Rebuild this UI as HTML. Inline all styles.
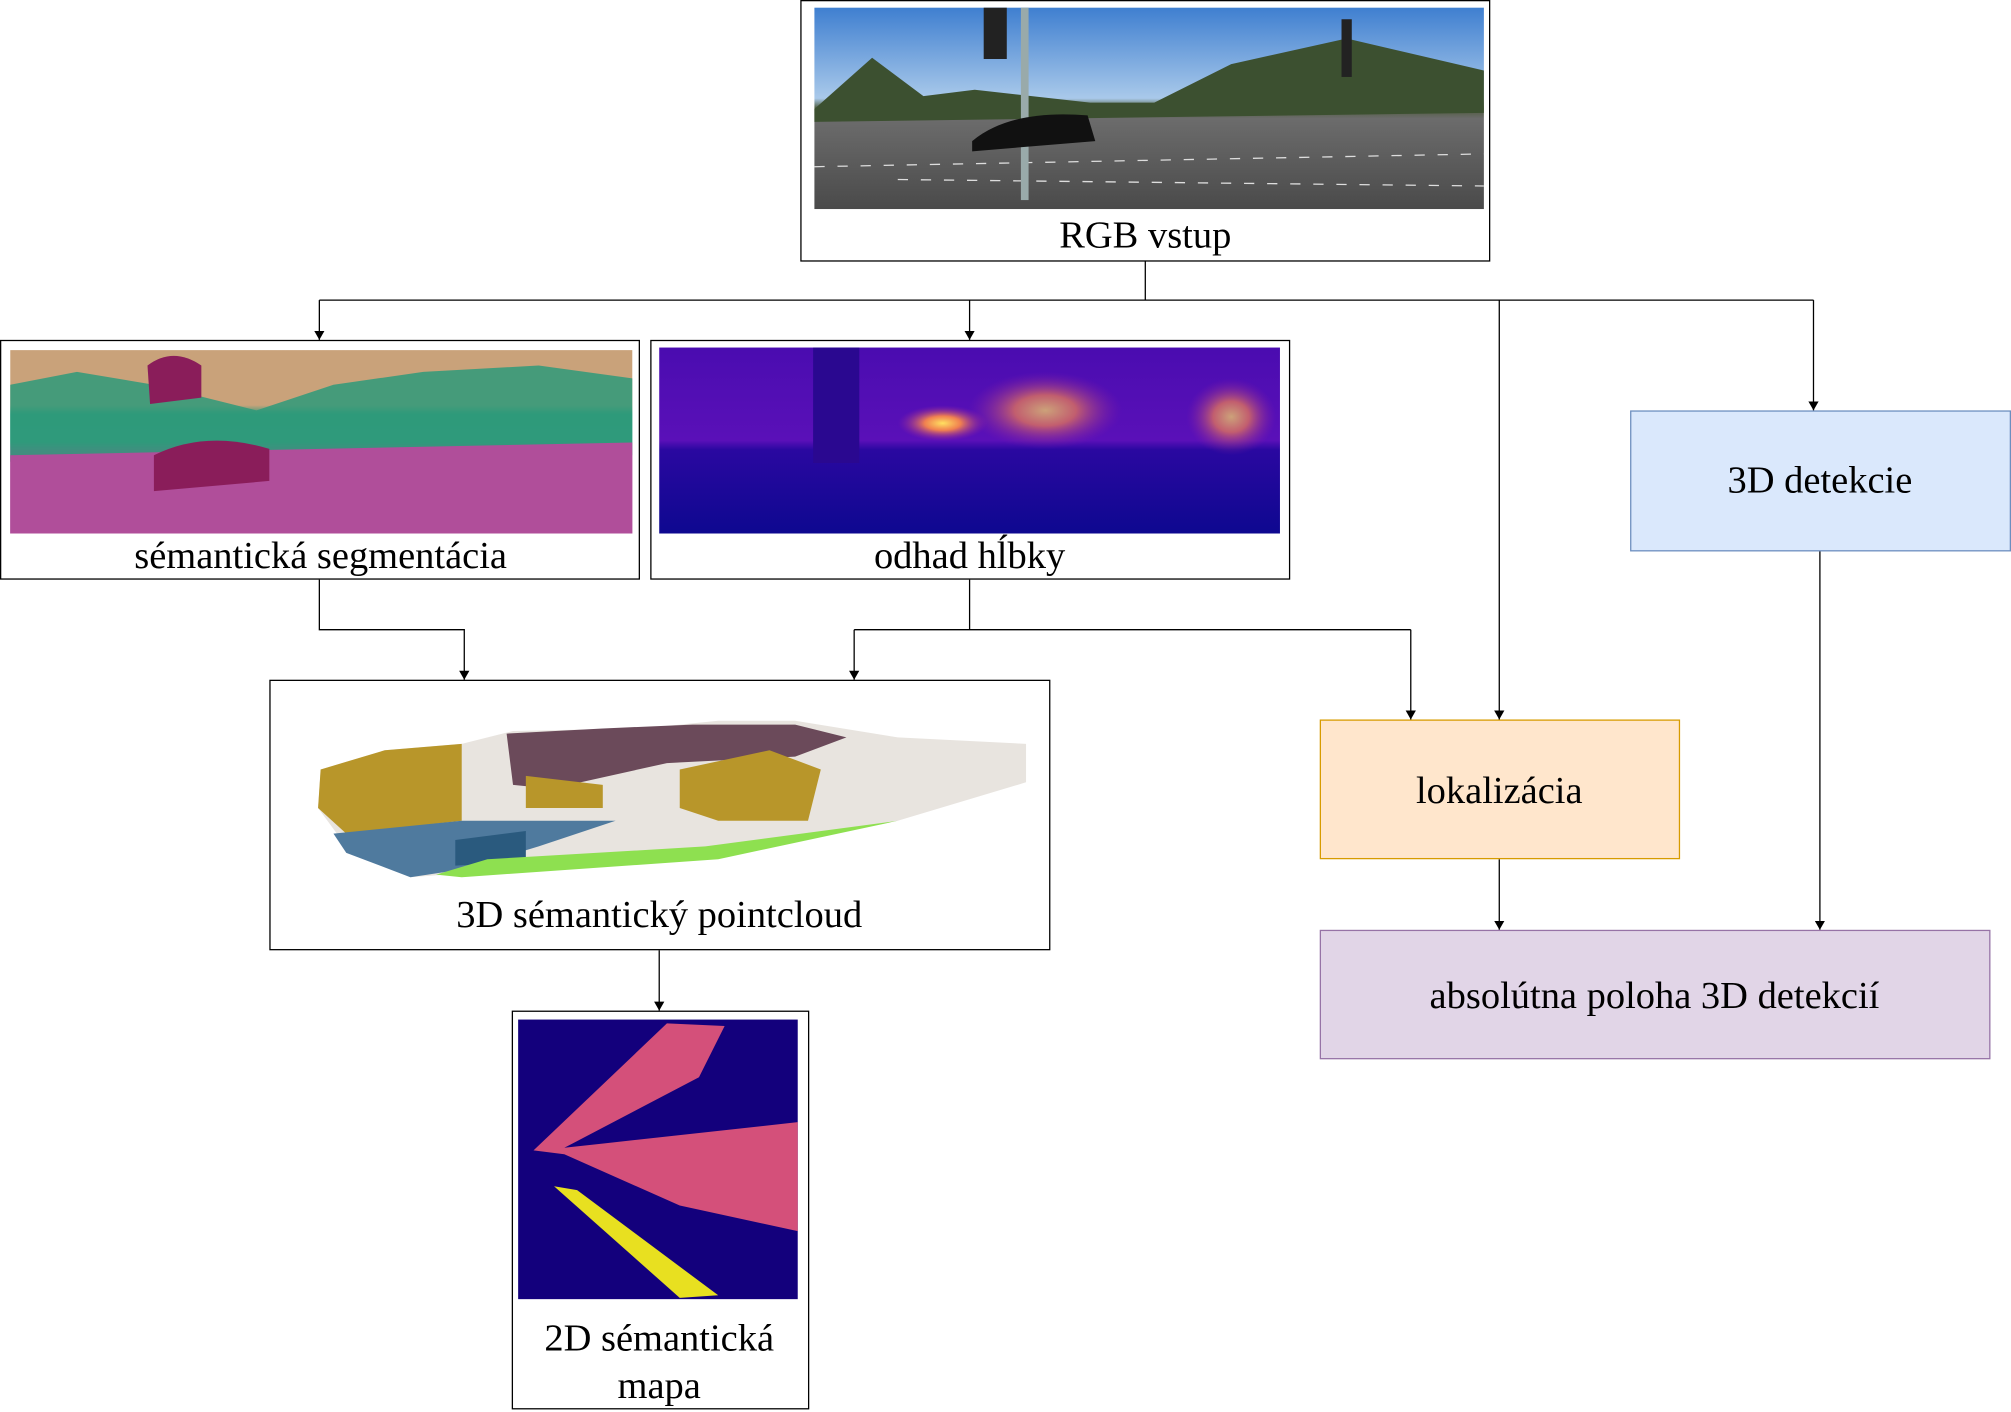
<!DOCTYPE html>
<html><head><meta charset="utf-8"><style>
html,body{margin:0;padding:0;background:#fff;width:2011px;height:1412px;overflow:hidden}
svg{display:block}
text{font-family:"Liberation Serif",serif;font-size:30px;fill:#000;text-anchor:middle}
</style></head><body>
<svg width="2011" height="1412" viewBox="0 0 1568 1101" preserveAspectRatio="none">
<defs>
<marker id="ar" markerWidth="8" markerHeight="8" refX="7" refY="4" orient="auto" markerUnits="userSpaceOnUse"><path d="M0,0 L7,4 L0,8 Z" fill="#000"/></marker>
<linearGradient id="sky" x1="0" y1="0" x2="0" y2="1"><stop offset="0" stop-color="#3f7fd0"/><stop offset="0.45" stop-color="#a9c9ea"/><stop offset="0.5" stop-color="#4d5a3a"/><stop offset="0.55" stop-color="#6c6c6c"/><stop offset="1" stop-color="#4a4a4a"/></linearGradient>
<linearGradient id="seg" x1="0" y1="0" x2="0" y2="1"><stop offset="0" stop-color="#c9a27a"/><stop offset="0.3" stop-color="#c9a27a"/><stop offset="0.35" stop-color="#2e9a7a"/><stop offset="0.5" stop-color="#3a9a80"/><stop offset="0.55" stop-color="#b04e9a"/><stop offset="1" stop-color="#b04e9a"/></linearGradient>
<linearGradient id="dep" x1="0" y1="0" x2="0" y2="1"><stop offset="0" stop-color="#4a0cb0"/><stop offset="0.5" stop-color="#5a10b8"/><stop offset="0.55" stop-color="#2a08a0"/><stop offset="1" stop-color="#0e0890"/></linearGradient>
<radialGradient id="hot" cx="0.5" cy="0.5" r="0.5"><stop offset="0" stop-color="#ffe060"/><stop offset="0.4" stop-color="#f08050"/><stop offset="1" stop-color="#9020a0" stop-opacity="0"/></radialGradient>
</defs>
<g fill="none" stroke="#000" stroke-width="1">
<path d="M893,203 V234 M249,234 H1414"/>
<path d="M249,234 V265" marker-end="url(#ar)"/>
<path d="M756,234 V265" marker-end="url(#ar)"/>
<path d="M1169,234 V561" marker-end="url(#ar)"/>
<path d="M1414,234 V320" marker-end="url(#ar)"/>
<path d="M249,452 V491 H362 V530" marker-end="url(#ar)"/>
<path d="M756,452 V491 M666,491 H1100 M666,491 V530" marker-end="url(#ar)"/>
<path d="M1100,491 V561" marker-end="url(#ar)"/>
<path d="M1169,670 V725" marker-end="url(#ar)"/>
<path d="M1419,429 V725" marker-end="url(#ar)"/>
<path d="M514,741 V788" marker-end="url(#ar)"/>
</g>
<g>
<rect x="624.5" y="0.5" width="537" height="203" fill="#fff" stroke="#000"/>
<rect x="635" y="6" width="522" height="157" fill="url(#sky)"/>
<path d="M635,85 L680,45 L720,75 L760,70 L850,80 L900,80 L960,50 L1050,30 L1157,55 L1157,88 L635,95Z" fill="#3c5030"/>
<path d="M635,130 L1157,120 M700,140 L1157,145" stroke="#ddd" stroke-dasharray="8 10"/>
<rect x="796" y="6" width="6" height="150" fill="#9aa"/>
<rect x="767" y="6" width="18" height="40" fill="#222"/>
<rect x="1046" y="15" width="8" height="45" fill="#222"/>
<path d="M758,110 q30,-25 90,-20 l6,20 -96,8Z" fill="#111"/>
<text x="893" y="193">RGB vstup</text>
</g>
<g>
<rect x="0.5" y="265.5" width="498" height="186" fill="#fff" stroke="#000"/>
<rect x="8" y="273" width="485" height="143" fill="url(#seg)"/>
<path d="M8,300 L60,290 L120,300 L200,320 L260,300 L330,290 L420,285 L493,295 L493,355 L8,360Z" fill="#2e9a7a" opacity="0.85"/>
<path d="M8,355 L493,345 L493,416 L8,416Z" fill="#b04e9a"/>
<path d="M120,355 q40,-20 90,-5 l0,25 -90,8Z" fill="#8a1d5a"/>
<path d="M115,285 q20,-15 42,0 l0,25 -40,5Z" fill="#8a1d5a"/>
<text x="250" y="443">sémantická segmentácia</text>
</g>
<g>
<rect x="507.5" y="265.5" width="498" height="186" fill="#fff" stroke="#000"/>
<rect x="514" y="271" width="484" height="145" fill="url(#dep)"/>
<rect x="634" y="271" width="36" height="90" fill="#2a0890"/>
<ellipse cx="735" cy="330" rx="35" ry="14" fill="url(#hot)"/>
<ellipse cx="815" cy="320" rx="60" ry="30" fill="url(#hot)" opacity="0.7"/>
<ellipse cx="960" cy="325" rx="35" ry="30" fill="url(#hot)" opacity="0.7"/>
<text x="756" y="443">odhad hĺbky</text>
</g>
<g>
<rect x="1271.5" y="320.5" width="296" height="109" fill="#dae8fc" stroke="#6c8ebf"/>
<text x="1419" y="384">3D detekcie</text>
</g>
<g>
<rect x="210.5" y="530.5" width="608" height="210" fill="#fff" stroke="#000"/>
<path d="M250,600 L300,585 L360,580 L400,570 L500,568 L560,562 L620,562 L700,575 L800,580 L800,610 L700,640 L600,660 L500,670 L400,678 L320,684 L270,660 L248,630Z" fill="#e8e4df"/>
<path d="M250,600 L300,585 L360,580 L360,640 L270,650 L248,630Z" fill="#b8962a"/>
<path d="M395,572 L470,568 L540,565 L620,565 L660,575 L620,590 L520,595 L430,615 L400,612Z" fill="#6b4a5a"/>
<path d="M530,600 L600,585 L640,600 L630,640 L560,640 L530,630Z" fill="#b8962a"/>
<path d="M410,605 L470,612 L470,630 L410,630Z" fill="#b8962a"/>
<path d="M260,650 L360,640 L480,640 L420,660 L360,678 L320,684 L270,665Z" fill="#4f7a9e"/>
<path d="M355,655 L410,648 L410,672 L355,675Z" fill="#2a5a7e"/>
<path d="M340,682 L380,670 L550,660 L700,640 L560,670 L360,684Z" fill="#8ee050"/>
<text x="514" y="723">3D sémantický pointcloud</text>
</g>
<g>
<rect x="1029.5" y="561.5" width="280" height="108" fill="#ffe6cc" stroke="#d79b00"/>
<text x="1169" y="626">lokalizácia</text>
</g>
<g>
<rect x="1029.5" y="725.5" width="522" height="100" fill="#e1d5e7" stroke="#9673a6"/>
<text x="1290" y="786">absolútna poloha 3D detekcií</text>
</g>
<g>
<rect x="399.5" y="788.5" width="231" height="310" fill="#fff" stroke="#000"/>
<rect x="404" y="795" width="218" height="218" fill="#13007c"/>
<path d="M416,897 L520,798 L565,800 L545,840 L440,895 L622,875 L622,960 L530,940 L440,900Z" fill="#d4507a"/>
<path d="M432,925 L450,928 L560,1010 L530,1012Z" fill="#e8e020"/>
<text x="514" y="1053">2D sémantická</text>
<text x="514" y="1090">mapa</text>
</g>
</svg>
</body></html>
